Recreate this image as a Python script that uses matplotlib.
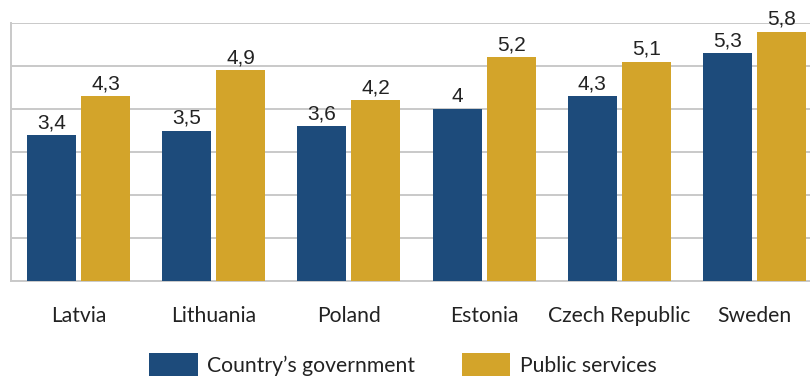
import matplotlib
matplotlib.use("Agg")
import matplotlib.pyplot as plt
import numpy as np

countries = ["Latvia", "Lithuania", "Poland", "Estonia", "Czech Republic", "Sweden"]
government = [3.4, 3.5, 3.6, 4.0, 4.3, 5.3]
public_services = [4.3, 4.9, 4.2, 5.2, 5.1, 5.8]
series_names = ["Country\u2019s government", "Public services"]

BLUE = "#1d4b7b"
GOLD = "#d3a42a"
GRID = "#c9c9c9"


def fmt(v):
    # comma decimal, no trailing ",0"
    if float(v).is_integer():
        return str(int(v))
    return f"{v:.1f}".replace(".", ",")


fig = plt.figure(figsize=(8.10, 3.76), dpi=100)
ax = fig.add_axes([11 / 810, 1 - 281 / 376, 811 / 810, (281 - 23) / 376])

x = np.arange(len(countries))
w = 0.362
off = 0.2
b1 = ax.bar(x - off, government, w, color=BLUE, label=series_names[0], zorder=3)
b2 = ax.bar(x + off, public_services, w, color=GOLD, label=series_names[1], zorder=3)

for bars, vals in [(b1, government), (b2, public_services)]:
    for bar, v in zip(bars, vals):
        ax.annotate(fmt(v), (bar.get_x() + bar.get_width() / 2, bar.get_height()),
                    xytext=(0, 2), textcoords="offset points", ha="center", va="bottom",
                    fontsize=15, family="Liberation Sans", color="#222222")

ax.set_xlim(-0.5, 5.5)
ax.set_ylim(0, 6)
ax.set_yticks(range(7))
ax.yaxis.grid(True, color=GRID, lw=1.4, zorder=0)
ax.tick_params(axis="y", left=False, labelleft=False)
ax.tick_params(axis="x", length=0, pad=18)
ax.set_xticks(x)
ax.set_xticklabels(countries, fontsize=15.2, family="Lato", color="#222222")
for s in ["top", "right"]:
    ax.spines[s].set_visible(False)
for s in ["left", "bottom"]:
    ax.spines[s].set_color(GRID)
    ax.spines[s].set_linewidth(1.4)

fig.legend(handles=[b1, b2], labels=series_names, loc="center", bbox_to_anchor=(403 / 810, 1 - 365 / 376),
           ncol=2, frameon=False, prop={"family": "Lato", "size": 15.2},
           handlelength=2.3, handleheight=1.3, handletextpad=0.45, columnspacing=2.2,
           labelcolor="#222222")

fig.savefig("out.png", dpi=100)
